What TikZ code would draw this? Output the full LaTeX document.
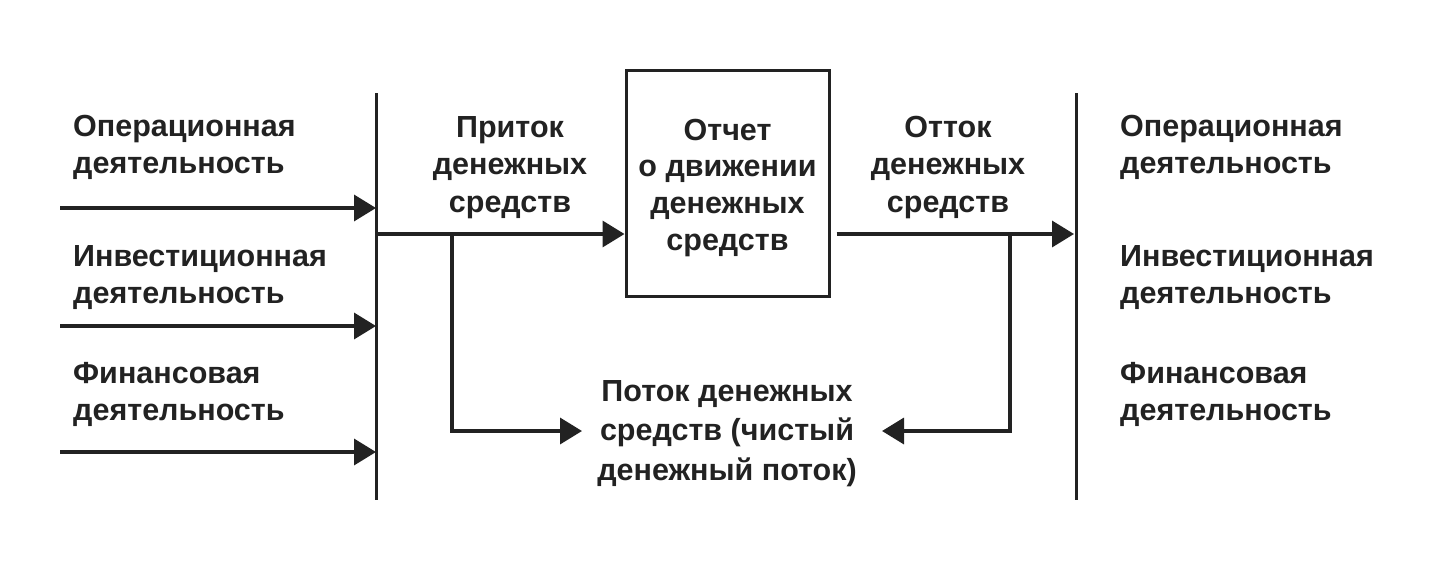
\documentclass[tikz,border=0pt]{standalone}
\usepackage{fontspec}
\setmainfont{Liberation Sans}
\usetikzlibrary{arrows.meta}
\definecolor{ink}{RGB}{34,34,34}
\begin{document}
\begin{tikzpicture}[x=1pt,y=-1pt,
  lbl/.style={font=\bfseries\fontsize{30.5}{36.5}\selectfont, text=ink, inner sep=0pt, align=left, anchor=base west},
  ctr/.style={font=\bfseries\fontsize{30.5}{37.5}\selectfont, text=ink, inner sep=0pt, align=center, anchor=base},
  arr/.style={draw=ink, line width=3.5pt, -{Triangle[length=22pt,width=26pt]}},
  bar/.style={draw=ink, line width=3pt},
  boxst/.style={draw=ink, line width=3pt, minimum width=203pt, minimum height=226pt, font=\bfseries\fontsize{30.5}{36.7}\selectfont, text=ink, align=center, inner sep=0pt},
]
\path[fill=white, use as bounding box] (0,0) rectangle (1431,573);

% vertical bars
\coordinate (lt) at (376,93);
\coordinate (lb) at (376,500);
\coordinate (rt) at (1076,93);
\coordinate (rb) at (1076,500);
\draw[bar] (lt) -- (lb);
\draw[bar] (rt) -- (rb);

% left labels (anchored at the baseline of the last line)
\node[lbl] (lop) at (73,173) {Операционная\\деятельность};
\node[lbl] (linv) at (73,303) {Инвестиционная\\деятельность};
\node[lbl] (lfin) at (73,420) {Финансовая\\деятельность};

% right labels
\node[lbl] (rop) at (1120,173) {Операционная\\деятельность};
\node[lbl] (rinv) at (1120,303) {Инвестиционная\\деятельность};
\node[lbl] (rfin) at (1120,420) {Финансовая\\деятельность};

% left arrows
\coordinate (a1) at (60,208);
\coordinate (a2) at (60,326);
\coordinate (a3) at (60,452);
\draw[arr] (a1) -- (a1 -| lt);
\draw[arr] (a2) -- (a2 -| lt);
\draw[arr] (a3) -- (a3 -| lt);

% box
\node[boxst] (box) at (727.5,183) {\rule{0pt}{31pt}Отчет\\о движении\\денежных\\средств};

% top centre labels
\node[ctr] (inflow) at (510,212) {Приток\\денежных\\средств};
\node[ctr] (outflow) at (948,212) {Отток\\денежных\\средств};

% main flow
\coordinate (inL) at (376,234);
\coordinate (outR) at (1074,234);
\draw[arr] (inL) -- (inL -| box.west);
\draw[arr, shorten <=6pt] (outR -| box.east) -- (outR);

% net flow
\node[font=\bfseries\fontsize{30.5}{39.5}\selectfont, text=ink, inner sep=0pt, align=center, anchor=base] (net) at (727,480) {Поток денежных\\средств (чистый\\денежный поток)};
\coordinate (bl) at (452,234);
\coordinate (blc) at (452,431);
\coordinate (tl) at (582,431);
\coordinate (br) at (1010,234);
\coordinate (brc) at (1010,431);
\coordinate (tr) at (882,431);
\draw[arr] (bl) -- (blc) -- (tl);
\draw[arr] (br) -- (brc) -- (tr);
\end{tikzpicture}
\end{document}
